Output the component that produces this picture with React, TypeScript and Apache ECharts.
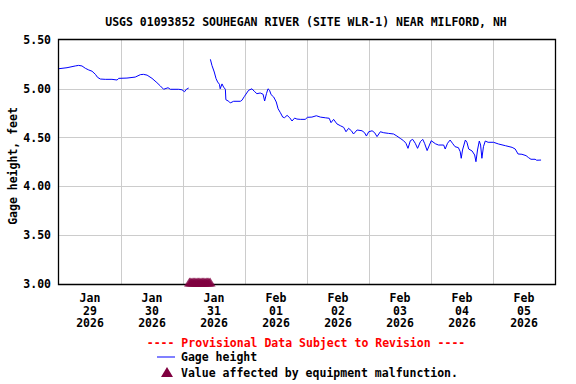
import React, { useEffect, useRef } from "react";
import * as echarts from "echarts";

const FONT = '"DejaVu Sans Mono", "Liberation Mono", monospace';

const titleText = "USGS 01093852 SOUHEGAN RIVER (SITE WLR-1) NEAR MILFORD, NH";
const yAxisTitle = "Gage height, feet";
const provisionalText = "---- Provisional Data Subject to Revision ----";
const seriesName = "Gage height";
const malfunctionName = "Value affected by equipment malfunction.";

// x labels (one per day, centred at noon)
const dayMonths = ["Jan", "Jan", "Jan", "Feb", "Feb", "Feb", "Feb", "Feb"];
const dayNumbers = ["29", "30", "31", "01", "02", "03", "04", "05"];
const dayYears = ["2026", "2026", "2026", "2026", "2026", "2026", "2026", "2026"];

// y ticks
const yMin = 3.0;
const yMax = 5.5;
const yStep = 0.5;

// hours since 2026-01-29 00:00 and gage height (ft); null = gap in record
const gageHours = [
  0, 3.1, 6.3, 7.6, 8.9, 10.2, 11.5, 12.8, 14.1, 14.9, 16.0, 17.9, 20.5, 22.5, 23.1,
  26.3, 29.5, 31.5, 32.7, 34.1, 36.0, 37.9, 39.2, 40.5, 42.2, 43.1, 46.3, 47.6, 48.6,
  49.3, 50.2,
  54.4,
  58.6, 59.2, 60.1, 60.8, 61.4, 62.1, 62.4, 63.1, 63.7, 64.4, 64.6, 65.7, 66.3, 67.6,
  70.2, 70.8, 71.8, 73.4, 74.7, 75.6, 76.6, 77.9, 79.0, 79.6, 80.3, 80.9, 81.5, 82.1,
  83.1, 84.1, 84.8, 85.7, 86.6, 87.3, 88.3, 89.3, 90.2, 91.2, 92.1, 93.4, 95.3, 96.2,
  97.9, 99.6, 101.2, 103.1, 104.6, 105.3, 106.3, 107.6, 108.9, 110.2, 111.1, 112.1,
  113.2, 114.0, 115.4, 117.3, 118.3, 119.0, 119.9, 121.2, 122.2, 123.1, 124.4, 125.7,
  127.6, 129.5, 130.8, 132.1, 133.4, 134.3, 135.1, 136.0, 136.9, 137.9, 138.8, 139.9,
  140.8, 141.5, 142.5, 143.4, 144.1, 145.7, 146.9, 148.9, 149.5, 150.4, 151.4, 152.3,
  153.3, 154.6, 155.3, 155.7, 156.2, 157.3, 157.9, 158.6, 159.9, 160.9, 161.4, 162.0,
  162.7, 163.2, 163.7, 164.3, 165.0, 166.1, 168.2, 170.2, 172.8, 175.4, 176.6, 177.7,
  179.2, 180.8, 181.8, 182.7, 184.3, 184.9, 186.6,
];
const gageValues = [
  5.206, 5.216, 5.234, 5.24, 5.234, 5.21, 5.193, 5.18, 5.148, 5.118, 5.1, 5.097, 5.097, 5.09, 5.107,
  5.11, 5.12, 5.145, 5.148, 5.14, 5.107, 5.063, 5.03, 4.995, 5.011, 4.995, 4.995, 4.99, 4.97,
  4.995, 5.008,
  null,
  5.302, 5.24, 5.172, 5.104, 5.07, 5.046, 5.0, 5.05, 5.018, 4.995, 4.888, 4.872, 4.855, 4.872,
  4.872, 4.882, 4.923, 4.985, 5.0, 4.974, 4.95, 4.957, 4.944, 4.875, 4.95, 5.0, 4.985, 4.94,
  4.916, 4.865, 4.796, 4.755, 4.71, 4.704, 4.728, 4.704, 4.67, 4.7, 4.69, 4.687, 4.687, 4.708,
  4.71, 4.724, 4.71, 4.703, 4.698, 4.653, 4.687, 4.64, 4.622, 4.605, 4.56, 4.595,
  4.57, 4.537, 4.578, 4.57, 4.55, 4.516, 4.56, 4.57, 4.55, 4.51, 4.56, 4.55,
  4.543, 4.537, 4.516, 4.492, 4.468, 4.442, 4.39, 4.468, 4.482, 4.442, 4.39, 4.458,
  4.482, 4.442, 4.367, 4.424, 4.468, 4.437, 4.424, 4.424, 4.383, 4.442, 4.475, 4.442,
  4.407, 4.397, 4.356, 4.288, 4.373, 4.475, 4.452, 4.383, 4.363, 4.322, 4.253, 4.373,
  4.465, 4.424, 4.288, 4.407, 4.465, 4.452, 4.452, 4.434, 4.417, 4.4, 4.383, 4.332,
  4.329, 4.315, 4.294, 4.278, 4.278, 4.268, 4.27,
];

// times flagged "equipment malfunction" (hours since 2026-01-29 00:00)
const malfunctionHours = [
  50.5, 51.0, 51.5, 52.0, 52.5, 53.0, 53.5, 54.0, 54.5, 55.0, 55.5, 56.0, 56.5, 57.0,
  57.5, 58.0, 58.5,
];

export default function App() {
  const ref = useRef<HTMLDivElement>(null);

  useEffect(() => {
    document.body.style.margin = "0";
    if (!ref.current) return;
    const chart = echarts.init(ref.current, undefined, { renderer: "svg" });

    const gageData = gageHours.map((h, i) => [h, gageValues[i]]);
    const malfunctionData = malfunctionHours.map((h) => [h, yMin]);

    const txt = { fontFamily: FONT, fontWeight: "bold" as const, fontSize: 11.5 };

    chart.setOption({
      animation: false,
      backgroundColor: "#ffffff",
      grid: {
        left: 59,
        top: 40,
        width: 496,
        height: 244,
        show: false,
      },
      xAxis: [
        {
          type: "value",
          min: 0,
          max: 192,
          interval: 24,
          axisLine: { show: false },
          axisTick: { show: false },
          axisLabel: { show: false },
          splitLine: {
            show: true,
            showMinLine: false,
            showMaxLine: false,
            lineStyle: { color: "#cccccc", width: 1 },
          },
        },
        {
          type: "value",
          min: 0,
          max: 192,
          interval: 12,
          position: "bottom",
          axisLine: { show: false },
          axisTick: { show: false },
          splitLine: { show: false },
          axisLabel: {
            show: true,
            margin: 8,
            ...txt,
            color: "#000000",
            lineHeight: 12.5,
            formatter: (v: number) => {
              if (v % 24 !== 12) return "";
              const i = (v - 12) / 24;
              return `${dayMonths[i]}\n${dayNumbers[i]}\n${dayYears[i]}`;
            },
          },
        },
      ],
      yAxis: {
        type: "value",
        min: yMin,
        max: yMax,
        interval: yStep,
        axisLine: { show: false },
        axisTick: { show: false },
        splitLine: {
          show: true,
          showMinLine: false,
          showMaxLine: false,
          lineStyle: { color: "#cccccc", width: 1 },
        },
        axisLabel: {
          margin: 8,
          ...txt,
          color: "#000000",
          formatter: (v: number) => v.toFixed(2),
        },
      },
      series: [
        {
          name: seriesName,
          type: "line",
          xAxisIndex: 0,
          data: gageData,
          showSymbol: false,
          connectNulls: false,
          lineStyle: { color: "#0000ff", width: 1 },
          itemStyle: { color: "#0000ff" },
          z: 3,
        },
        {
          name: malfunctionName,
          type: "scatter",
          xAxisIndex: 0,
          data: malfunctionData,
          symbol: "triangle",
          symbolSize: [11, 9],
          symbolOffset: [0, -2],
          clip: false,
          itemStyle: { color: "#800040" },
          z: 150,
        },
      ],
      graphic: [
        {
          type: "rect",
          z: 100,
          silent: true,
          shape: { x: 58.5, y: 39.5, width: 497, height: 245 },
          style: { fill: "none", stroke: "#000000", lineWidth: 1.3 },
        },
        {
          type: "text",
          x: 306,
          y: 22,
          style: { text: titleText, ...txt, fill: "#000000", textAlign: "center", textVerticalAlign: "middle" },
        },
        {
          type: "text",
          x: 13,
          y: 166,
          rotation: Math.PI / 2,
          style: { text: yAxisTitle, ...txt, fill: "#000000", textAlign: "center", textVerticalAlign: "middle" },
        },
        {
          type: "text",
          x: 306,
          y: 343,
          style: { text: provisionalText, ...txt, fill: "#ff0000", textAlign: "center", textVerticalAlign: "middle" },
        },
        {
          type: "rect",
          shape: { x: 157, y: 356.5, width: 18, height: 1 },
          style: { fill: "#0000ff", stroke: "none" },
        },
        {
          type: "text",
          x: 181,
          y: 357,
          style: { text: seriesName, ...txt, fill: "#000000", textAlign: "left", textVerticalAlign: "middle" },
        },
        {
          type: "polygon",
          shape: { points: [[167, 367], [161, 377], [173, 377]] },
          style: { fill: "#800040" },
        },
        {
          type: "text",
          x: 181,
          y: 373,
          style: { text: malfunctionName, ...txt, fill: "#000000", textAlign: "left", textVerticalAlign: "middle" },
        },
      ],
    });

    return () => chart.dispose();
  }, []);

  return <div ref={ref} style={{ width: 576, height: 384 }} />;
}
